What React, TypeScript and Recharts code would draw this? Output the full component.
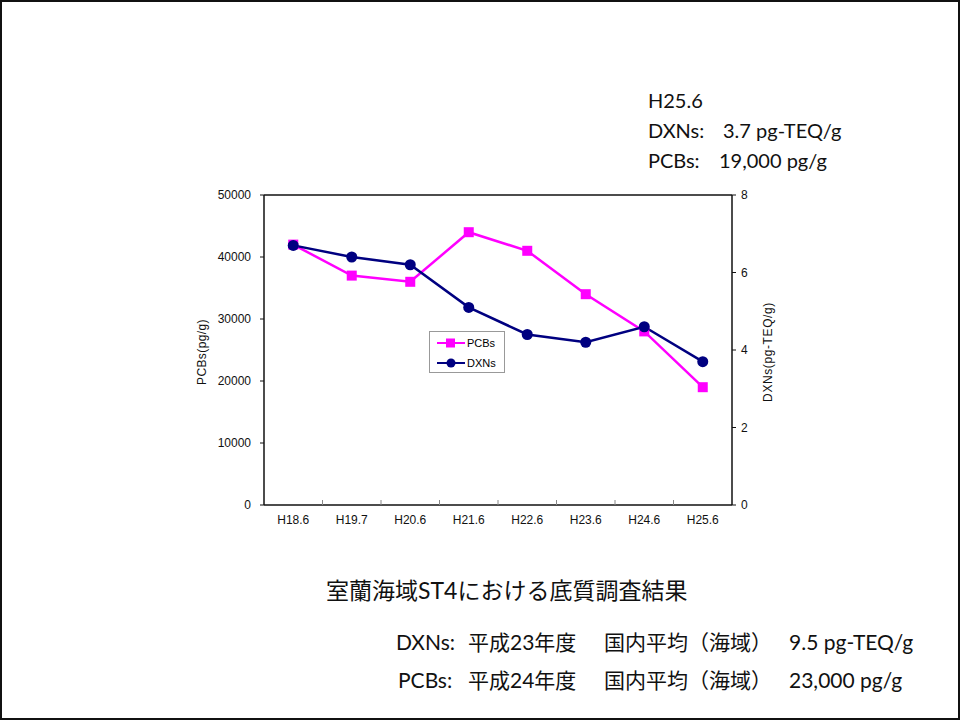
import { LineChart, Line, XAxis, YAxis, ReferenceLine } from "recharts";

// Survey years (Heisei era, month)
const years = ["H18.6", "H19.7", "H20.6", "H21.6", "H22.6", "H23.6", "H24.6", "H25.6"];
// PCBs concentration (pg/g)
const pcbs = [42000, 37000, 36000, 44000, 41000, 34000, 28000, 19000];
// Dioxins concentration (pg-TEQ/g)
const dxns = [6.7, 6.4, 6.2, 5.1, 4.4, 4.2, 4.6, 3.7];

const leftTicks = [0, 10000, 20000, 30000, 40000, 50000];
const rightTicks = [0, 2, 4, 6, 8];

const PCB_COLOR = "#ff00ff";
const DXN_COLOR = "#000080";

const data = years.map((name, i) => ({ name, PCBs: pcbs[i], DXNs: dxns[i] }));

const axisFont = "'Liberation Sans', Arial, sans-serif";
const textFont = "Lato, 'Noto Sans CJK JP', sans-serif";

const CHART_W = 620;
const CHART_H = 360;
const MARGIN = { top: 15, right: 18, bottom: 5, left: 24 };
const PLOT_W = CHART_W - MARGIN.left - MARGIN.right - 60 - 50;
const BAND = PLOT_W / years.length;

const SquareDot = (props: any) => {
  const { cx, cy } = props;
  if (cx == null || cy == null) return null;
  return <rect x={cx - 5} y={cy - 5} width={10} height={10} fill={PCB_COLOR} />;
};

const RoundDot = (props: any) => {
  const { cx, cy } = props;
  if (cx == null || cy == null) return null;
  return <circle cx={cx} cy={cy} r={5.5} fill={DXN_COLOR} />;
};

// category label plus a short tick on the boundary before it
const XTick = (props: any) => {
  const { x, y, payload, index } = props;
  return (
    <g>
      {index > 0 && (
        <line x1={x - BAND / 2} x2={x - BAND / 2} y1={y - 5} y2={y} stroke="#888" strokeWidth={1} />
      )}
      <text x={x} y={y + 19} textAnchor="middle" fontSize={12} fontFamily={axisFont} fill="#111">
        {payload.value}
      </text>
    </g>
  );
};

const Legend = () => (
  <div
    style={{
      position: "absolute",
      left: 427,
      top: 329,
      width: 76,
      height: 42,
      boxSizing: "border-box",
      border: "1px solid #999",
      background: "#fff",
      fontFamily: axisFont,
      fontSize: 11,
    }}
  >
    {[
      { name: "PCBs", color: PCB_COLOR, square: true },
      { name: "DXNs", color: DXN_COLOR, square: false },
    ].map((item, i) => (
      <div key={item.name} style={{ position: "absolute", left: 6, top: 3 + i * 20, height: 16, display: "flex", alignItems: "center" }}>
        <svg width={30} height={16}>
          <line x1={1} x2={29} y1={8} y2={8} stroke={item.color} strokeWidth={2} />
          {item.square ? (
            <rect x={10} y={3.5} width={9} height={9} fill={item.color} />
          ) : (
            <circle cx={15} cy={8} r={4.5} fill={item.color} />
          )}
        </svg>
        <span style={{ marginLeft: 1 }}>{item.name}</span>
      </div>
    ))}
  </div>
);

const Txt = ({ left, top, size = 20, children }: any) => (
  <div
    style={{
      position: "absolute",
      left,
      top,
      fontSize: size,
      lineHeight: "1",
      fontFamily: textFont,
      color: "#111",
      whiteSpace: "pre",
    }}
  >
    {children}
  </div>
);

const AxisTitle = ({ centerX, spacing, children }: any) => (
  <div
    style={{
      position: "absolute",
      left: centerX - 70,
      top: 343,
      width: 140,
      textAlign: "center",
      transform: "rotate(-90deg)",
      fontFamily: axisFont,
      fontSize: 12,
      letterSpacing: spacing,
      color: "#111",
      whiteSpace: "nowrap",
    }}
  >
    {children}
  </div>
);

export default function App() {
  return (
    <div
      style={{
        position: "absolute",
        left: 0,
        top: 0,
        width: 960,
        height: 720,
        boxSizing: "border-box",
        border: "2px solid #111",
        background: "#fff",
        overflow: "hidden",
      }}
    >
      <Txt left={646} top={88}>H25.6</Txt>
      <Txt left={646} top={118}>DXNs:</Txt>
      <Txt left={721} top={118}>3.7 pg-TEQ/g</Txt>
      <Txt left={646} top={148}>PCBs:</Txt>
      <Txt left={717} top={148}>19,000 pg/g</Txt>

      <div style={{ position: "absolute", left: 178, top: 178 }}>
        <LineChart width={CHART_W} height={CHART_H} data={data} margin={MARGIN}>
          <XAxis
            dataKey="name"
            height={30}
            tickSize={0}
            tickMargin={0}
            tickLine={false}
            tick={<XTick />}
            axisLine={{ stroke: "#111", strokeWidth: 1.5 }}
            interval={0}
            padding={{ left: BAND / 2, right: BAND / 2 }}
          />
          <YAxis
            yAxisId="left"
            width={60}
            domain={[0, 50000]}
            ticks={leftTicks}
            tickSize={4}
            tickMargin={9}
            tick={{ fontSize: 12, fontFamily: axisFont, fill: "#111" }}
            tickLine={{ stroke: "#111" }}
            axisLine={{ stroke: "#111", strokeWidth: 1.5 }}
          />
          <YAxis
            yAxisId="right"
            orientation="right"
            width={50}
            domain={[0, 8]}
            ticks={rightTicks}
            tickSize={4}
            tickMargin={5}
            tick={{ fontSize: 12, fontFamily: axisFont, fill: "#111" }}
            tickLine={{ stroke: "#111" }}
            axisLine={{ stroke: "#111", strokeWidth: 1.5 }}
          />
          <ReferenceLine yAxisId="left" y={50000} stroke="#111" strokeWidth={1.5} />
          <Line
            yAxisId="left"
            dataKey="PCBs"
            stroke={PCB_COLOR}
            strokeWidth={2.5}
            dot={<SquareDot />}
            activeDot={false}
            isAnimationActive={false}
          />
          <Line
            yAxisId="right"
            dataKey="DXNs"
            stroke={DXN_COLOR}
            strokeWidth={2.5}
            dot={<RoundDot />}
            activeDot={false}
            isAnimationActive={false}
          />
        </LineChart>
      </div>

      <Legend />

      <AxisTitle centerX={200} spacing={0.4}>PCBs(pg/g)</AxisTitle>
      <AxisTitle centerX={766} spacing={0.6}>DXNs(pg-TEQ/g)</AxisTitle>

      <Txt left={324} top={577} size={23}>室蘭海域ST4における底質調査結果</Txt>

      <Txt left={394} top={629} size={21}>DXNs:</Txt>
      <Txt left={466} top={629} size={21}>平成23年度</Txt>
      <Txt left={602} top={629} size={21}>国内平均（海域）</Txt>
      <Txt left={787} top={629} size={21}>9.5 pg-TEQ/g</Txt>

      <Txt left={396} top={667} size={21}>PCBs:</Txt>
      <Txt left={466} top={667} size={21}>平成24年度</Txt>
      <Txt left={602} top={667} size={21}>国内平均（海域）</Txt>
      <Txt left={787} top={667} size={21}>23,000 pg/g</Txt>
    </div>
  );
}
